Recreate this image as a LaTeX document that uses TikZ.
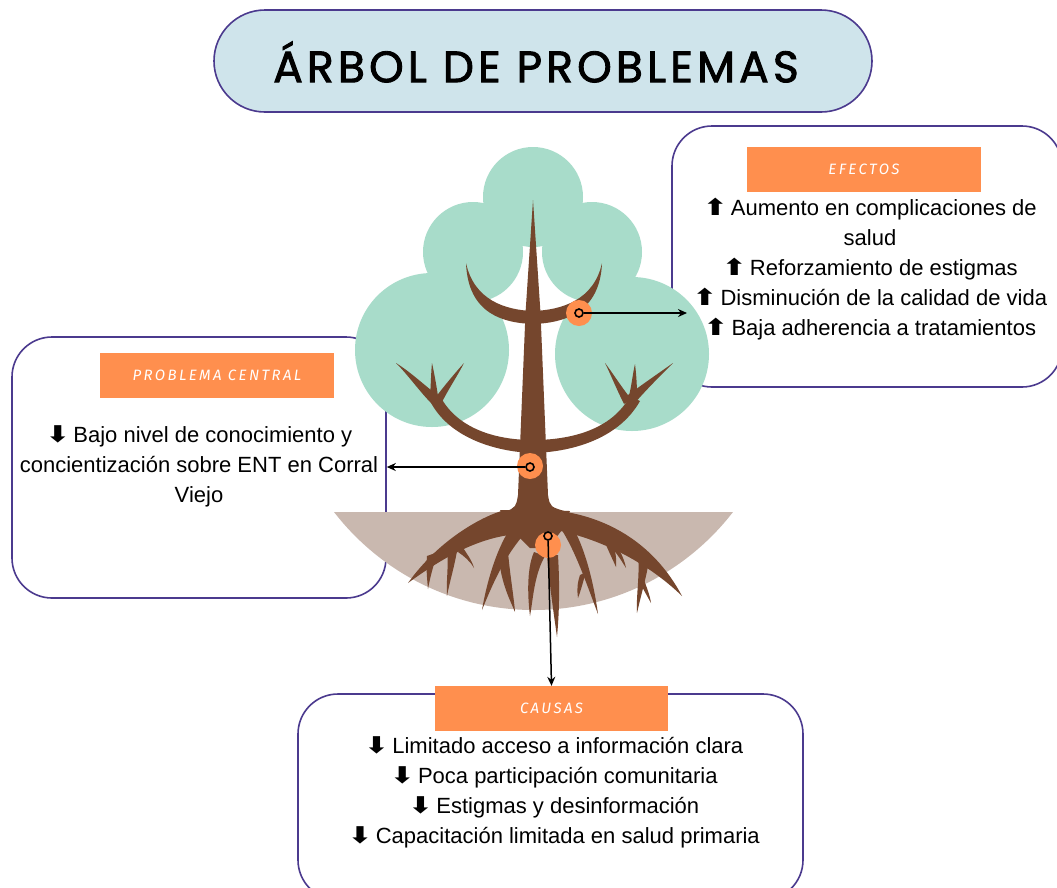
\documentclass[tikz,border=0pt]{standalone}
\usepackage{fontspec}
\usepackage{graphicx}
\setmainfont{Liberation Sans}
\newfontfamily\titlefont[LetterSpace=9.5,FakeBold=2]{Poppins}
\newfontfamily\tagfont[LetterSpace=16]{Fira Sans}
\newfontfamily\symfont{DejaVu Sans}
\usetikzlibrary{arrows.meta}

\definecolor{leaf}{HTML}{A8DCCA}
\definecolor{bark}{HTML}{75462D}
\definecolor{soil}{HTML}{C9B8AF}
\definecolor{tag}{HTML}{FF8F4E}
\definecolor{frame}{HTML}{4B3A8E}
\definecolor{sky}{HTML}{CFE4EB}

\newcommand\uparr{\scalebox{1.3}[1.05]{\symfont\bfseries ⬆}\,}
\newcommand\dnarr{\scalebox{1.3}[1.05]{\symfont\bfseries ⬇}\,}
% tapered limb: base corner, two controls, tip, two controls, other base corner
\newcommand\limb[7]{\fill[bark] #1 .. controls #2 and #3 .. #4
  .. controls #5 and #6 .. #7 -- cycle;}

\begin{document}
\begin{tikzpicture}[x=1pt,y=-1pt,
  panel/.style={draw=frame, line width=1.6pt, fill=white, rounded corners=40pt, inner sep=0pt},
  tagbox/.style={fill=tag, inner sep=0pt, minimum width=234pt, minimum height=45pt,
    text=white, font=\tagfont\itshape\fontsize{15}{15}\selectfont},
  body/.style={align=center, font=\fontsize{22}{30}\selectfont, inner sep=0pt},
  knot/.style={circle, fill=tag, minimum size=26pt, inner sep=0pt},
  ring/.style={circle, draw=black, line width=1.6pt, fill=tag, minimum size=8pt, inner sep=0pt},
  link/.style={line width=1.5pt, -{Stealth[length=9pt,width=8pt]}},
]
\useasboundingbox (0,0) rectangle (1057,887);
\fill[white] (0,0) rectangle (1057,887);

% title
\node[draw=frame, line width=1.6pt, fill=sky, rounded corners=51pt,
  minimum width=658pt, minimum height=102pt, inner sep=0pt] (pill) at (543,61) {};
\node[inner sep=0pt] (title) at (536,62)
  {\titlefont\fontsize{44}{44}\selectfont ÁRBOL DE PROBLEMAS};

% panels
\node[panel, minimum width=390pt, minimum height=261pt] (fx) at (867,256.5) {};
\node[panel, minimum width=374pt, minimum height=261pt] (pb) at (199,467.5) {};
\node[panel, minimum width=505pt, minimum height=206pt] (cs) at (550.5,797) {};

\node[tagbox] (fxtag) at (864,169.5) {EFECTOS};
\node[tagbox] (pbtag) at (217,375.5) {PROBLEMA CENTRAL};
\node[tagbox, minimum width=233pt] (cstag) at (551.5,708.5) {CAUSAS};

\node[body] (fxtext) at (870,269.5) {\uparr Aumento en complicaciones de\\ salud\\
  \uparr Reforzamiento de estigmas\\ \uparr Disminución de la calidad de vida\\
  \uparr Baja adherencia a tratamientos};
\node[body] (pbtext) at (199,466) {\dnarr Bajo nivel de conocimiento y\\
  concientización sobre ENT en Corral\\ Viejo};
\node[body] (cstext) at (554,792) {\dnarr Limitado acceso a información clara\\
  \dnarr Poca participación comunitaria\\ \dnarr Estigmas y desinformación\\
  \dnarr Capacitación limitada en salud primaria};

% foliage
\fill[leaf] (533,197) circle[radius=50pt];
\fill[leaf] (473,252) circle[radius=50pt];
\fill[leaf] (592,252) circle[radius=50pt];
\fill[leaf] (432,350) circle[radius=77pt];
\fill[leaf] (632,354) circle[radius=77pt];

% ground
\begin{scope}
  \clip (300,512) rectangle (760,700);
  \fill[soil] (533.5,358) circle[radius=252pt];
\end{scope}

% trunk with a flared foot
\fill[bark] (533,200) -- (540.5,313) -- (548,495) .. controls (550,507) .. (568,512)
  -- (505,512) .. controls (516,507) .. (518,495) -- (525.5,313) -- cycle;
% root crown below the trunk
\fill[bark] (500,510) -- (570,511) -- (562,530) -- (548,548) -- (530,548) -- (516,534)
  -- (508,522) -- cycle;

% upper branch
\fill[bark] (466,263) .. controls (468,315) and (505,323) .. (533,324)
  .. controls (565,323) and (600,312) .. (602,263)
  .. controls (594,300) and (562,310) .. (533,311)
  .. controls (505,310) and (474,300) .. (466,263) -- cycle;

% lower branch and its twigs
\fill[bark] (430,401) .. controls (450,440) and (500,452) .. (533,453)
  .. controls (570,452) and (618,440) .. (640,401)
  -- (630,396) .. controls (612,430) and (570,440) .. (533,440)
  .. controls (498,440) and (458,430) .. (440,396) -- cycle;
\limb{(432,404)}{(420,392)}{(408,375)}{(396,363)}{(412,373)}{(425,386)}{(440,397)}
\limb{(430,396)}{(431,383)}{(431,372)}{(432,363)}{(434,372)}{(436,383)}{(438,396)}
\limb{(435,398)}{(445,385)}{(455,373)}{(464,363)}{(458,375)}{(449,388)}{(441,404)}
\limb{(624,398)}{(640,386)}{(656,375)}{(673,363)}{(660,376)}{(646,390)}{(633,405)}
\limb{(629,396)}{(632,383)}{(633,372)}{(635,364)}{(636,372)}{(637,383)}{(637,396)}
\limb{(624,404)}{(616,388)}{(610,373)}{(605,363)}{(612,372)}{(620,385)}{(631,399)}

% roots, left side
\limb{(505,510)}{(485,515)}{(440,538)}{(408,583)}{(445,556)}{(480,537)}{(518,534)}
\limb{(427,556)}{(426,568)}{(427,578)}{(428,589)}{(430,578)}{(433,566)}{(438,552)}
\limb{(447,548)}{(449,565)}{(446,580)}{(447,596)}{(450,580)}{(455,565)}{(458,545)}
\limb{(458,552)}{(464,556)}{(470,561)}{(474,568)}{(472,560)}{(466,553)}{(462,546)}
\limb{(515,522)}{(500,540)}{(488,575)}{(482,610)}{(495,578)}{(508,550)}{(530,528)}
\limb{(499,560)}{(502,585)}{(510,600)}{(515,612)}{(514,598)}{(510,575)}{(508,552)}
% roots, middle
\limb{(534,552)}{(526,570)}{(528,600)}{(530,616)}{(533,600)}{(534,575)}{(545,556)}
\limb{(547,555)}{(550,590)}{(554,615)}{(557,637)}{(559,615)}{(560,590)}{(558,555)}
% roots, right side
\limb{(553,518)}{(572,540)}{(585,580)}{(598,614)}{(593,578)}{(583,540)}{(566,516)}
\limb{(580,575)}{(577,584)}{(577,590)}{(578,598)}{(581,590)}{(583,582)}{(586,572)}
\limb{(560,511)}{(610,518)}{(655,545)}{(682,596)}{(650,565)}{(605,540)}{(556,530)}
\limb{(604,540)}{(608,550)}{(612,558)}{(616,567)}{(617,556)}{(614,546)}{(612,538)}
\limb{(612,548)}{(618,555)}{(621,560)}{(626,568)}{(624,558)}{(620,551)}{(616,545)}
\limb{(638,556)}{(640,575)}{(636,595)}{(637,613)}{(641,595)}{(647,575)}{(649,560)}
\limb{(641,585)}{(645,592)}{(647,596)}{(651,603)}{(650,596)}{(647,588)}{(644,580)}

% knots and connectors
\node[knot] (k1) at (579,313) {};
\node[knot] (k2) at (530,466) {};
\node[knot] (k3) at (548,545) {};
\node[ring] (r1) at (579,313) {};
\node[ring] (r2) at (530,467) {};
\node[ring] (r3) at (548,536) {};
\coordinate (fxin) at (687,313);
\draw[link] (r1) -- (fxin);
\draw[link] (r2) -- (r2 -| pb.east);
\draw[link] (r3) -- (cstag.north);
\end{tikzpicture}
\end{document}
